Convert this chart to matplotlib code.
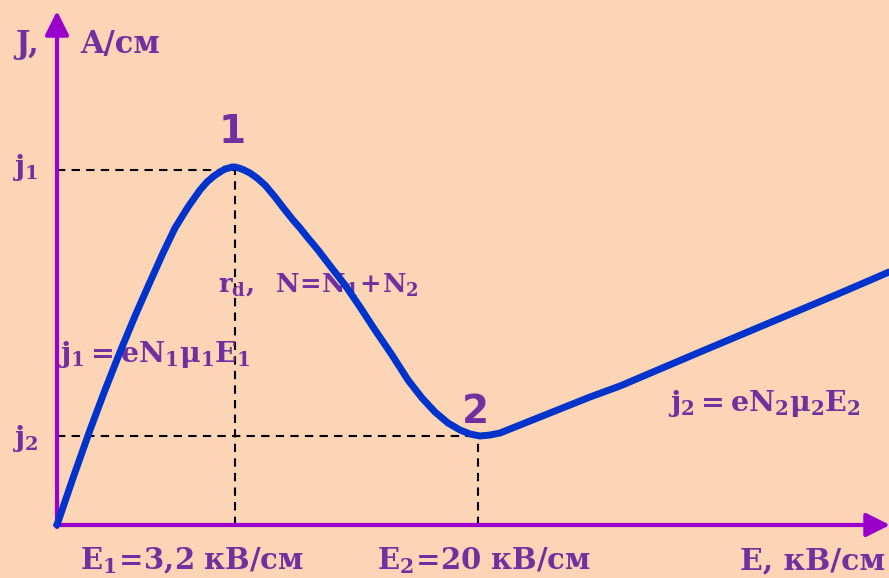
import matplotlib.pyplot as plt

plt.rcParams['mathtext.fontset'] = 'dejavuserif'

# Вольт-амперная характеристика (условные единицы, начало координат в точке 0,0)
curve_E = [0, 16, 33, 48, 63, 78, 93, 106, 118, 131, 143, 150, 157, 163, 168,
           172, 175, 178, 182, 187, 193, 200, 208, 218, 228, 236, 243, 251,
           261, 274, 288, 303, 318, 335, 351, 365, 378, 391, 403, 413, 423,
           433, 443, 458, 473, 503, 533, 563, 603, 643, 693, 743, 788, 832]
curve_J = [0, 47, 95, 135, 173, 209, 243, 272, 297, 318, 335, 343, 349, 353, 356,
           357, 358, 358, 357, 355, 352, 347, 340, 328, 315, 305, 297, 287,
           275, 258, 240, 218, 195, 170, 145, 127, 113, 102, 95, 91, 89,
           90, 92, 98, 104, 116, 128, 139, 156, 173, 194, 215, 234, 253]

# характерные точки: максимум (1) и минимум (2)
E1, J1 = 178, 355
E2, J2 = 421, 89

bg = '#FBD5B5'
purple = '#7030A0'
axis_col = '#9900CC'

fig = plt.figure(figsize=(8.89, 5.78), dpi=100, facecolor=bg)
ax = fig.add_axes([0, 0, 1, 1])
ax.set_facecolor(bg)
ax.set_xlim(-57, 832)
ax.set_ylim(-53, 525)
ax.axis('off')

# пунктирные проекции
dash = dict(color='black', lw=1.5, linestyle=(0, (4, 3)))
ax.plot([0, E1], [J1, J1], **dash)
ax.plot([E1, E1], [0, J1], **dash)
ax.plot([0, E2], [J2, J2], **dash)
ax.plot([E2, E2], [0, J2], **dash)

# оси со стрелками
arrow = dict(arrowstyle='-|>', lw=3, color=axis_col, mutation_scale=36,
             shrinkA=0, shrinkB=0)
ax.annotate('', xy=(0, 514), xytext=(0, -2), arrowprops=arrow,
            annotation_clip=False)
ax.annotate('', xy=(833, 0), xytext=(-2, 0), arrowprops=arrow,
            annotation_clip=False)

# кривая
ax.plot(curve_E, curve_J, color='#0033CC', lw=5, solid_joinstyle='round',
        solid_capstyle='round', zorder=5)

serif = dict(color=purple, family='DejaVu Serif', fontweight='bold',
             va='baseline', ha='left')
ax.text(-42, 472, 'J,', fontsize=22, **serif)
ax.text(23, 472, 'A/см', fontsize=22, **serif)
ax.text(-45, 350, r'$\mathbf{j_1}$', fontsize=20, **serif)
ax.text(-45, 79, r'$\mathbf{j_2}$', fontsize=20, **serif)
ax.text(161, 233, r'$\mathbf{r_d,\ \ N\!=\!N_1\!+\!N_2}$', fontsize=18.5, **serif)
ax.text(1, 163, r'$\mathbf{j_1 = eN_1\mu_1E_1}$', fontsize=20.5, **serif)
ax.text(611, 114, r'$\mathbf{j_2 = eN_2\mu_2E_2}$', fontsize=20.5, **serif)
ax.text(23, -44, r'$\mathbf{E_1\!=\!3{,}2\ кВ/см}$', fontsize=21, **serif)
ax.text(320, -44, r'$\mathbf{E_2\!=\!20\ кВ/см}$', fontsize=21, **serif)
ax.text(828, -44, 'E, кВ/см', fontsize=21.5, color=purple, family='DejaVu Serif',
        fontweight='bold', va='baseline', ha='right')

ax.text(E1 - 3, 382, '1', fontsize=28, color=purple, family='DejaVu Sans',
        fontweight='bold', ha='center', va='baseline')
ax.text(E2 - 3, 102, '2', fontsize=28, color=purple, family='DejaVu Sans',
        fontweight='bold', ha='center', va='baseline')

fig.savefig('out.png', dpi=100, facecolor=bg)
